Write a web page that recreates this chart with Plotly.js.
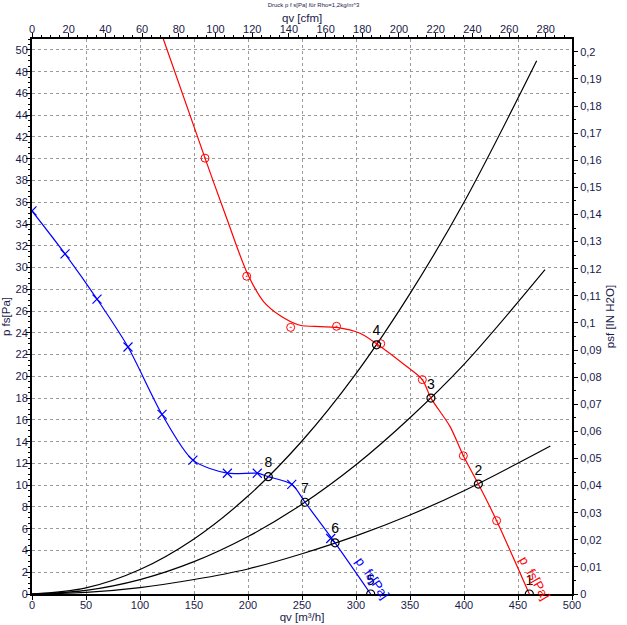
<!DOCTYPE html>
<html>
<head>
<meta charset="utf-8">
<script src="https://cdn.plot.ly/plotly-3.0.1.min.js"></script>
<style>html,body{margin:0;padding:0;background:#fff;}#chart{width:627px;height:625px;}</style>
</head>
<body>
<div id="chart"></div>
<script>
// ---- data (qv in m³/h, pressure in Pa) ----
const blueLineX = [0, 30.6, 60.2, 88.9, 120.4, 149, 180.9, 208.6, 218.8, 240.5, 252.8, 280.6, 313.6];
const blueLineY = [35.2, 31.25, 27.1, 22.7, 16.5, 12.3, 11.1, 11.1, 10.78, 10.08, 8.43, 4.7, 0];
const blueMarkX = [0, 30.6, 60.2, 88.9, 120.4, 149, 180.9, 208.6, 240.5, 276.6];
const blueMarkY = [35.2, 31.25, 27.1, 22.7, 16.5, 12.3, 11.1, 11.1, 10.08, 5.1];

const redLineX = [121.6, 160.2, 180, 198.8, 214.2, 229.6, 248, 266.7, 282, 303.7, 319, 347, 361.4, 369.4, 387, 399.4, 413.3, 430.2, 460.5];
const redLineY = [51, 40.05, 34.6, 29.6, 26.9, 25.6, 24.7, 24.57, 24.5, 23.96, 23.0, 20.9, 19.7, 18.0, 15.4, 12.7, 10.1, 6.74, 0];
const redMarkX = [160.2, 198.8, 239.5, 282, 322.9, 361.4, 399.4, 430.2];
const redMarkY = [40.05, 29.2, 24.5, 24.6, 23.0, 19.7, 12.7, 6.74];

// system curves
const sysAX = [0, 50, 100, 150, 200, 250, 300, 350, 400, 467.3];
const sysAY = [0, 0.56, 2.25, 5.06, 9.0, 14.06, 20.25, 27.6, 36.0, 49.0];
const sysBX = [0, 50, 100, 150, 200, 250, 300, 350, 400, 475];
const sysBY = [0, 0.33, 1.32, 2.97, 5.28, 8.25, 11.88, 16.2, 21.1, 29.8];
const sysCX = [0, 50, 100, 150, 200, 250, 300, 350, 400, 480];
const sysCY = [0, 0.15, 0.59, 1.33, 2.3, 3.7, 5.34, 7.26, 9.49, 13.6];

// operating points
const ptLabels = ['1', '2', '3', '4', '5', '6', '7', '8'];
const ptX = [460.5, 413.3, 369.4, 319, 313.6, 280.6, 252.8, 218.8];
const ptY = [0, 10.1, 18.0, 22.9, 0, 4.7, 8.43, 10.78];

const xMax = 500, yMax = 51;
const cfmPerM3h = 1 / 1.699;
const inH2OPerPa = 1 / 249.09;

const FAM = 'Liberation Sans, Arial, sans-serif';
const tickFont = {family: FAM, size: 11, color: '#1a1a4a'};
const titleFont = {family: FAM, size: 11.5, color: '#1a1a4a'};

const traces = [
  {x: sysAX, y: sysAY, mode: 'lines', line: {color: '#000', width: 1.2, shape: 'spline'}},
  {x: sysBX, y: sysBY, mode: 'lines', line: {color: '#000', width: 1.2, shape: 'spline'}},
  {x: sysCX, y: sysCY, mode: 'lines', line: {color: '#000', width: 1.2, shape: 'spline'}},
  {x: redLineX, y: redLineY, mode: 'lines', line: {color: '#ff0000', width: 1.2, shape: 'spline', smoothing: 0.8}},
  {x: redMarkX, y: redMarkY, mode: 'markers', marker: {symbol: 'circle-open-dot', size: 8, color: '#ff0000', line: {width: 1, color: '#ff0000'}}},
  {x: blueLineX, y: blueLineY, mode: 'lines', line: {color: '#0000ff', width: 1.2, shape: 'spline', smoothing: 0.8}},
  {x: blueMarkX, y: blueMarkY, mode: 'markers', marker: {symbol: 'x-thin-open', size: 9, color: '#0000ff', line: {width: 1.2, color: '#0000ff'}}},
  {x: ptX, y: ptY, text: ptLabels, mode: 'markers+text', textposition: 'top center',
   textfont: {family: FAM, size: 14, color: '#000'},
   marker: {symbol: 'circle-open', size: 8, color: '#000', line: {width: 1.2, color: '#000'}}},
  {x: [0], y: [0], xaxis: 'x2', yaxis: 'y2', mode: 'markers', marker: {opacity: 0}}
];

const layout = {
  width: 627, height: 625,
  margin: {l: 32, r: 55, t: 39, b: 31, pad: 0},
  paper_bgcolor: '#fff', plot_bgcolor: '#fff',
  showlegend: false,
  separators: ',.',
  title: {text: 'Druck p f s[Pa] für Rho=1,2kg/m^3', font: {family: FAM, size: 6, color: '#1a1a4a'},
          x: 0.5, xanchor: 'center', y: 0.995, yanchor: 'top', yref: 'container'},
  xaxis: {
    range: [0, xMax], dtick: 50,
    showgrid: true, gridcolor: '#9a9a9a', griddash: '3px,3px', gridwidth: 1,
    zeroline: false, showline: true, linecolor: '#000', linewidth: 2,
    ticks: 'outside', ticklen: 4, tickcolor: '#000', tickfont: tickFont, ticklabelstandoff: -4,
    title: {text: 'qv [m³/h]', font: titleFont, standoff: 2}
  },
  yaxis: {
    range: [0, yMax], dtick: 2,
    showgrid: true, gridcolor: '#9a9a9a', griddash: '3px,3px', gridwidth: 1,
    zeroline: false, showline: true, linecolor: '#000', linewidth: 2,
    ticks: 'outside', ticklen: 4, tickcolor: '#000', tickfont: tickFont, ticklabelstandoff: -4,
    minor: {ticks: 'outside', ticklen: 2, dtick: 0.5, tickcolor: '#000'},
    title: {text: 'p fs[Pa]', font: titleFont, standoff: 3}
  },
  xaxis2: {
    overlaying: 'x', side: 'top', anchor: 'y',
    range: [0, xMax * cfmPerM3h], dtick: 20,
    showgrid: false, zeroline: false, showline: true, linecolor: '#000', linewidth: 2,
    ticks: 'outside', ticklen: 4, tickcolor: '#000', tickfont: tickFont, ticklabelstandoff: -4,
    minor: {ticks: 'outside', ticklen: 2, dtick: 5, tickcolor: '#000'}
  },
  yaxis2: {
    overlaying: 'y', side: 'right', anchor: 'x',
    range: [0, yMax * inH2OPerPa], dtick: 0.01,
    showgrid: false, zeroline: false, showline: true, linecolor: '#000', linewidth: 2,
    ticks: 'outside', ticklen: 4, tickcolor: '#000', tickfont: tickFont,
    minor: {ticks: 'outside', ticklen: 2, dtick: 0.005, tickcolor: '#000'},
    title: {text: 'psf [IN H2O]', font: titleFont}
  },
  annotations: [
    {x: 0.5, y: 1.0378, xref: 'paper', yref: 'paper', text: 'qv [cfm]', showarrow: false,
     xanchor: 'center', yanchor: 'middle', borderpad: 0, font: titleFont},
    {x: 315.7, y: 1.47, xref: 'x', yref: 'y', text: 'p  fs[Pa]', showarrow: false, textangle: 55,
     font: {family: FAM, size: 13, color: '#0000ff'}},
    {x: 465.7, y: 1.47, xref: 'x', yref: 'y', text: 'p  fs[Pa]', showarrow: false, textangle: 60,
     font: {family: FAM, size: 13, color: '#ff0000'}}
  ]
};

Plotly.newPlot('chart', traces, layout, {staticPlot: true});
</script>
</body>
</html>
